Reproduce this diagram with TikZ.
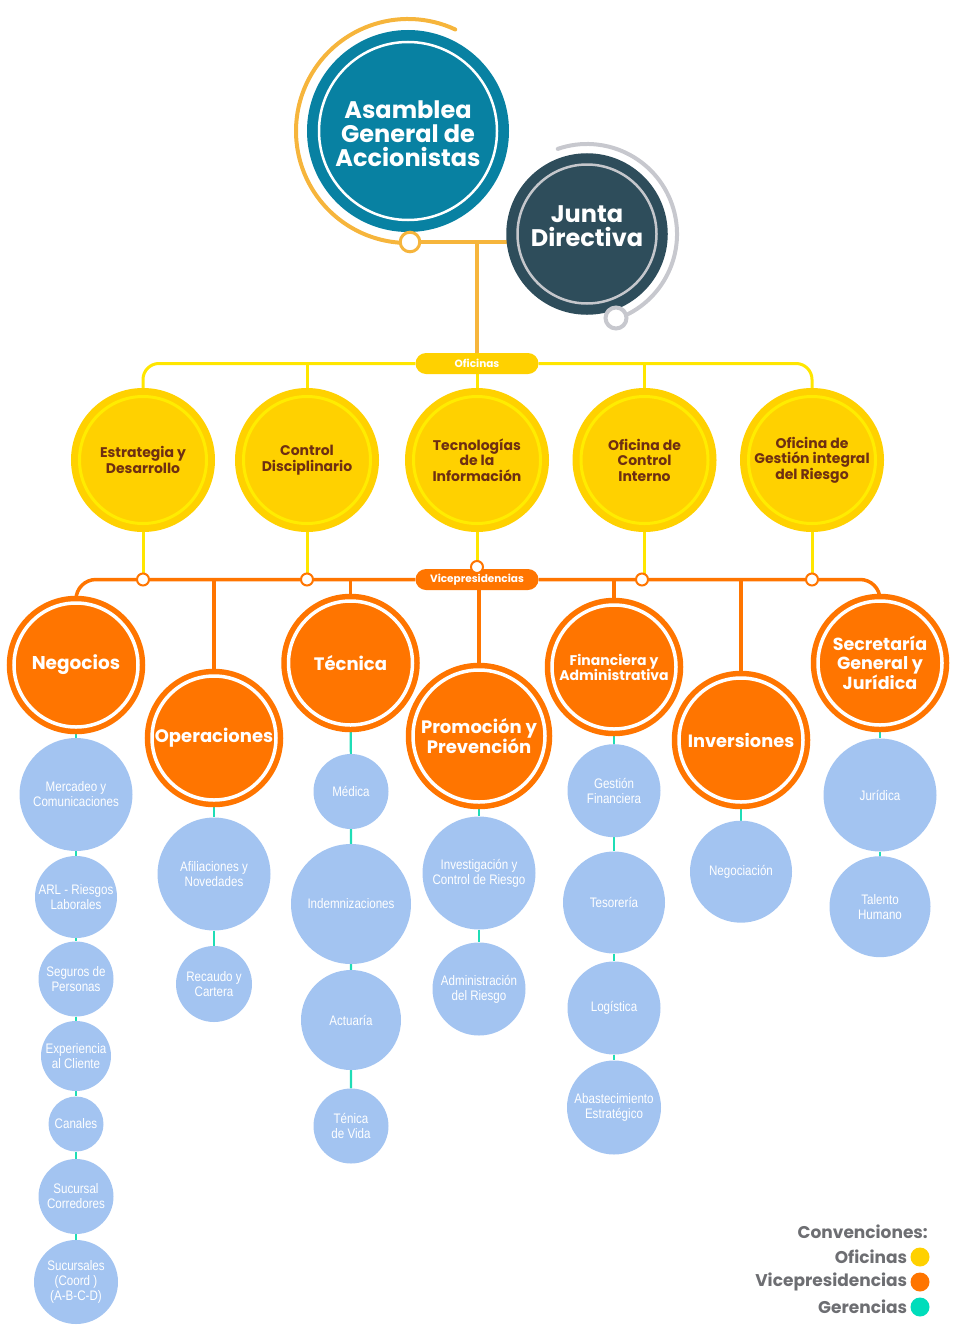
\documentclass[tikz,border=0pt]{standalone}
\usepackage{fontspec}
\setmainfont{Poppins}
\newfontfamily\gerfont[FakeStretch=0.84]{Liberation Sans}
\usetikzlibrary{backgrounds,positioning}

\definecolor{asam}{HTML}{0881A2}
\definecolor{jd}{HTML}{2E4D5B}
\definecolor{jdring}{HTML}{C5C7CC}
\definecolor{oro}{HTML}{F6B53C}
\definecolor{gris}{HTML}{C7C8CE}
\definecolor{amar}{HTML}{FFD100}
\definecolor{amring}{HTML}{FFEC00}
\definecolor{amline}{HTML}{FFE600}
\definecolor{amtext}{HTML}{6E2F12}
\definecolor{nar}{HTML}{FF7500}
\definecolor{azul}{HTML}{A3C4F1}
\definecolor{verde}{HTML}{1FDDB6}
\definecolor{verdeley}{HTML}{00DDBB}
\definecolor{leyenda}{HTML}{6D6E72}

\begin{document}
\begin{tikzpicture}[x=1pt,y=1pt,
  cabeza/.style={circle, inner sep=0pt},
  rotulo/.style={align=center, text=white, font=\bfseries\fontsize{24}{24}\selectfont},
  ofic/.style={circle, inner sep=0pt, minimum size=127pt, fill=amar, draw=amar, double=amring, double distance=3pt, line width=7pt, align=center, text=amtext, font=\bfseries\fontsize{14}{15.5}\selectfont},
  vice/.style={circle, inner sep=0pt, minimum size=124pt, fill=nar, draw=nar, double=white, double distance=3.5pt, line width=5.5pt, align=center, text=white, font=\bfseries\fontsize{18}{18.5}\selectfont},
  ger/.style={circle, inner sep=0pt, fill=azul, align=center, text=white, font=\gerfont\fontsize{13.8}{15}\selectfont},
  pill/.style={rounded corners=10.5pt, minimum width=123pt, minimum height=21pt, inner sep=0pt, text=white, font=\bfseries\fontsize{10.5}{10.5}\selectfont},
  punto/.style={circle, inner sep=0pt, minimum size=12pt, fill=white, draw=nar, line width=2pt},
  ley/.style={inner sep=0pt, text=leyenda, font=\bfseries\fontsize{17}{17}\selectfont},
  bola/.style={circle, inner sep=0pt, minimum size=19pt},
]
\useasboundingbox (0,0) rectangle (960,-1330);

% cabeza
\node[cabeza, minimum size=178pt, fill=asam, draw=asam, double=white, double distance=2.5pt, line width=10.75pt,
  label={[rotulo, yshift=-3pt]center:{Asamblea\\General de\\Accionistas}}] (asam) at (408,-131) {};
\node[cabeza, minimum size=139pt, fill=jd, draw=jd, double=jdring, double distance=2.5pt, line width=10pt,
  label={[rotulo, yshift=8pt]center:{Junta\\Directiva}}] (junta) at (587,-234) {};
\draw[oro, line width=4pt, line cap=round] (asam.center) ++(65:112) arc[start angle=65, end angle=270, radius=112];
\draw[gris, line width=4pt, line cap=round] (junta.center) ++(109:90) arc[start angle=109, end angle=-71, radius=90];
\node[circle, inner sep=0pt, minimum size=19.6pt, fill=white, draw=oro, line width=3pt] (ag) at (410,-242) {};
\node[circle, inner sep=0pt, minimum size=21pt, fill=white, draw=gris, line width=4pt] (jg) at (616,-318) {};

% oficinas
\node[pill, fill=amar] (ofi) at (477,-363.5) {Oficinas};
\node[ofic] (estr) at (143,-460) {Estrategia y\\Desarrollo};
\node[ofic] (cd) at (307,-460) {Control\\Disciplinario};
\node[ofic] (tec) at (477,-460) {Tecnologías\\de la\\Información};
\node[ofic] (oci) at (644.5,-460) {Oficina de\\Control\\Interno};
\node[ofic] (ogr) at (812,-460) {Oficina de\\Gestión integral\\del Riesgo};

% vicepresidencias
\node[pill, fill=nar] (vic) at (477,-579.5) {Vicepresidencias};
\node[punto] (d1) at (estr |- vic) {};
\node[punto] (d2) at (cd |- vic) {};
\node[punto] (d3) at (477,-567) {};
\node[punto] (d4) at (642,-579.5) {};
\node[punto] (d5) at (812,-579.5) {};
\node[vice, font=\bfseries\fontsize{18.5}{18.5}\selectfont] (neg) at (76,-665) {Negocios};
\node[vice] (op) at (214,-738) {Operaciones};
\node[vice] (tc) at (350.5,-663) {Técnica};
\node[vice, minimum size=132pt] (pp) at (479,-736) {Promoción y\\Prevención};
\node[vice, font=\bfseries\fontsize{14}{15}\selectfont] (fa) at (614,-667) {Financiera y\\Administrativa};
\node[vice, font=\bfseries\fontsize{17.8}{18.5}\selectfont] (inv) at (741,-740) {Inversiones};
\node[vice, font=\bfseries\fontsize{17.5}{18.5}\selectfont] (sg) at (880,-663) {Secretaría\\General y\\Jurídica};

% gerencias
\node[ger, minimum size=113pt] (g11) at (76,-794.5) {Mercadeo y\\Comunicaciones};
\node[ger, minimum size=82pt] (g12) at (76,-897) {ARL - Riesgos\\Laborales};
\node[ger, minimum size=75pt] (g13) at (76,-979) {Seguros de\\Personas};
\node[ger, minimum size=70pt] (g14) at (76,-1056) {Experiencia\\al Cliente};
\node[ger, minimum size=55pt] (g15) at (76,-1124) {Canales};
\node[ger, minimum size=75pt] (g16) at (76,-1196.5) {Sucursal\\Corredores};
\node[ger, minimum size=84pt] (g17) at (76,-1282) {Sucursales\\(Coord )\\(A-B-C-D)};
\node[ger, minimum size=113pt] (g21) at (214,-874) {Afiliaciones y\\Novedades};
\node[ger, minimum size=76pt] (g22) at (214,-984) {Recaudo y\\Cartera};
\node[ger, minimum size=75pt] (g31) at (351,-791.5) {Médica};
\node[ger, minimum size=120pt] (g32) at (351,-904) {Indemnizaciones};
\node[ger, minimum size=100pt] (g33) at (351,-1020) {Actuaría};
\node[ger, minimum size=75pt] (g34) at (351,-1126) {Ténica\\de Vida};
\node[ger, minimum size=113pt] (g41) at (479,-873) {Investigación y\\Control de Riesgo};
\node[ger, minimum size=93pt] (g42) at (479,-989) {Administración\\del Riesgo};
\node[ger, minimum size=93pt] (g51) at (614,-790.7) {Gestión\\Financiera};
\node[ger, minimum size=102pt] (g52) at (614,-902.5) {Tesorería};
\node[ger, minimum size=93pt] (g53) at (614,-1008) {Logística};
\node[ger, minimum size=94pt] (g54) at (614,-1107.5) {Abastecimiento\\Estratégico};
\node[ger, minimum size=102pt] (g61) at (741,-871.7) {Negociación};
\node[ger, minimum size=113pt] (g71) at (880,-795) {Jurídica};
\node[ger, minimum size=101pt] (g72) at (880,-906.7) {Talento\\Humano};

% lineas
\begin{scope}[on background layer]
  \draw[oro, line width=4pt] (ag) -- (ag -| junta);
  \draw[oro, line width=4pt] (ag -| ofi) -- (ofi);
  \draw[amline, line width=3pt, rounded corners=16pt] (estr) |- (ofi) -| (ogr);
  \foreach \n in {cd,tec,oci} \draw[amline, line width=3pt] (\n) -- (\n |- ofi);
  \foreach \n/\d in {estr/d1,cd/d2,tec/d3,oci/d4,ogr/d5} \draw[amline, line width=3pt] (\n) -- (\n |- \d);
  \draw[nar, line width=3.5pt, rounded corners=20pt] (neg) |- (vic) -| (sg);
  \foreach \n in {op,tc,pp,fa,inv} \draw[nar, line width=3.5pt] (\n) -- (\n |- vic);
  \draw[verde, line width=2.2pt] (neg) -- (g11) -- (g12) -- (g13) -- (g14) -- (g15) -- (g16) -- (g17);
  \draw[verde, line width=2.2pt] (op) -- (g21) -- (g22);
  \draw[verde, line width=2.2pt] (tc) -- (g31) -- (g32) -- (g33) -- (g34);
  \draw[verde, line width=2.2pt] (pp) -- (g41) -- (g42);
  \draw[verde, line width=2.2pt] (fa) -- (g51) -- (g52) -- (g53) -- (g54);
  \draw[verde, line width=2.2pt] (inv) -- (g61);
  \draw[verde, line width=2.2pt] (sg) -- (g71) -- (g72);
\end{scope}

% convenciones
\node[ley, anchor=east] (conv) at (928,-1232) {Convenciones:};
\node[bola, fill=amar] (b1) at (920,-1257) {};
\node[bola, fill=nar] (b2) at (920,-1282) {};
\node[bola, fill=verdeley] (b3) at (920,-1307) {};
\node[ley, left=3pt of b1] (l1) {Oficinas};
\node[ley, left=3pt of b2] (l2) {Vicepresidencias};
\node[ley, left=3pt of b3] (l3) {Gerencias};
\end{tikzpicture}
\end{document}
